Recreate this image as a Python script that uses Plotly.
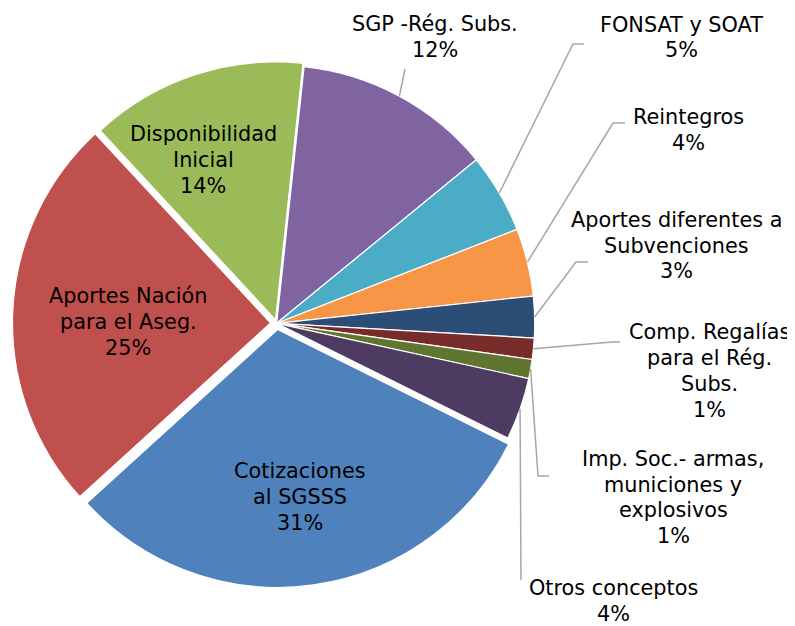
import math
import plotly.graph_objects as go

# ---- data ----
categories = [
    "Cotizaciones<br>al SGSSS",
    "Aportes Nación<br>para el Aseg.",
    "Disponibilidad<br>Inicial",
    "SGP -Rég. Subs.",
    "FONSAT y SOAT",
    "Reintegros",
    "Aportes diferentes a<br>Subvenciones",
    "Comp. Regalías<br>para el Rég.<br>Subs.",
    "Imp. Soc.- armas,<br>municiones y<br>explosivos",
    "Otros conceptos",
]
values = [30.95, 24.9, 13.6, 12.4, 5.0, 4.25, 2.6, 1.33, 1.2, 3.9]
colors = ["#4F81BD", "#C0504D", "#9BBB59", "#8064A2", "#4BACC6",
          "#F79646", "#2C4D75", "#772C2A", "#5F7530", "#4D3B62"]
pulls = [0.024, 0.024, 0.014, 0, 0, 0, 0, 0, 0, 0]

OFF = 8  # page body margin
W, H = 795 - OFF, 626 - OFF
ROT = 116.4
CX, CY = 276.7 - OFF, 323.3 - OFF
BOX = 528.4  # pie box size in px
dom_x = [(CX - BOX / 2) / W, (CX + BOX / 2) / W]
dom_y = [1 - (CY + BOX / 2) / H, 1 - (CY - BOX / 2) / H]
R = BOX / 2 / (1 + max(pulls))
LINE = 25.7
FONT = dict(family="DejaVu Sans", size=20.8, color="black")

# label placement (reference px): text block centre, and leader elbow / end near label
label_pos = [
    dict(t=(300, 497)),
    dict(t=(128, 322)),
    dict(t=(203, 160)),
    dict(t=(435, 37), lead=[(405, 69)]),
    dict(t=(681, 37.5), lead=[(573, 44), (584, 44)]),
    dict(t=(688, 130), lead=[(613, 123), (625, 123)]),
    dict(t=(676, 245.5), lead=[(576, 262), (588, 262)]),
    dict(t=(709, 371), lead=[(612, 342), (620, 342)]),
    dict(t=(673, 497.5), lead=[(538, 476), (549, 476)]),
    dict(t=(613, 601), lead=[(521, 580)]),
]


def px2paper(x, y):
    return (x - OFF) / W, 1 - (y - OFF) / H


fig = go.Figure(go.Pie(
    labels=[c.replace("<br>", " ") for c in categories],
    values=values,
    sort=False,
    direction="clockwise",
    rotation=ROT,
    pull=pulls,
    marker=dict(colors=colors, line=dict(color="white", width=1.2)),
    textinfo="none",
    hoverinfo="label+percent",
    domain=dict(x=dom_x, y=dom_y),
))

total = sum(values)
cum = 0.0
annotations = []
shapes = []
for cat, v, lp in zip(categories, values, label_pos):
    pct = v / total
    mid = math.radians(ROT + (cum + v / 2) / total * 360)
    cum += v
    lines = cat.split("<br>") + [f"{round(pct * 100):d}%"]
    tx, ty = lp["t"]
    n = len(lines)
    for i, ln in enumerate(lines):
        ly = ty + (i - (n - 1) / 2) * LINE
        x, y = px2paper(tx, ly)
        annotations.append(dict(
            x=x, y=y, xref="paper", yref="paper",
            text=ln, showarrow=False,
            xanchor="center", yanchor="middle", align="center",
            font=FONT,
        ))
    if "lead" in lp:
        px = CX + OFF + R * math.sin(mid)
        py = CY + OFF - R * math.cos(mid)
        pts = [(px, py)] + lp["lead"]
        path = "M " + " L ".join("%.5f,%.5f" % px2paper(x, y) for x, y in pts)
        shapes.append(dict(type="path", path=path, xref="paper", yref="paper",
                           line=dict(color="#A6A6A6", width=1.5)))

fig.update_layout(
    width=W, height=H,
    margin=dict(l=0, r=0, t=0, b=0),
    paper_bgcolor="white", plot_bgcolor="white",
    showlegend=False,
    annotations=annotations,
    shapes=shapes,
)
fig.write_html("out.html")
